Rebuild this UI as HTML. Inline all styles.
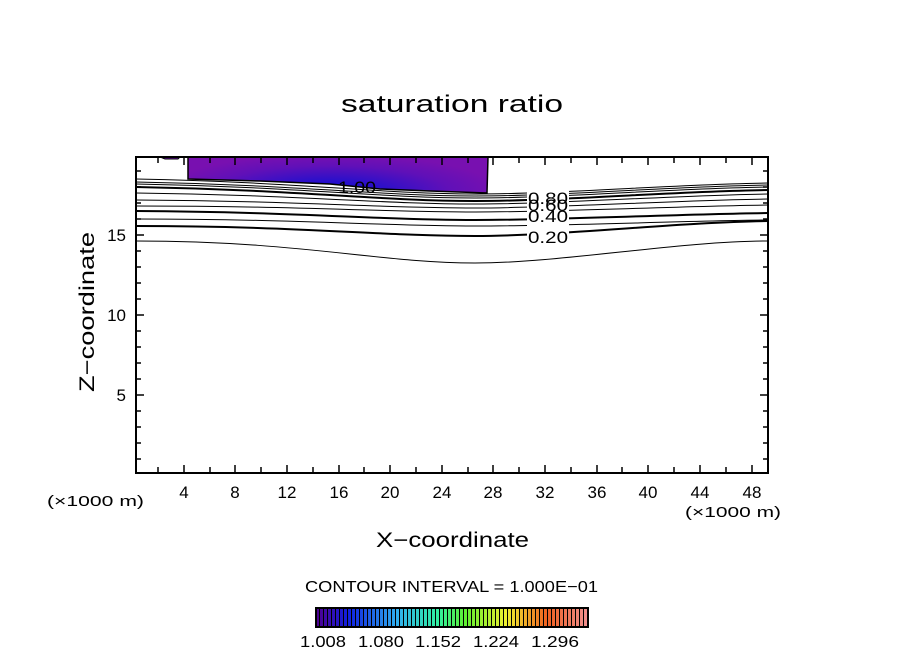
<!DOCTYPE html>
<html><head><style>
html,body{margin:0;padding:0;background:#fff;}
svg{display:block;font-family:"Liberation Sans",sans-serif;}
</style></head><body>
<svg width="904" height="654" viewBox="0 0 904 654" xmlns="http://www.w3.org/2000/svg">
<defs>
<radialGradient id="g" cx="330" cy="192" r="170" gradientUnits="userSpaceOnUse" gradientTransform="translate(330 192) scale(1 0.22) translate(-330 -192)">
<stop offset="0" stop-color="#0808d8"/>
<stop offset="0.35" stop-color="#3010c8"/>
<stop offset="0.7" stop-color="#6010b8"/>
<stop offset="1" stop-color="#7810b0"/>
</radialGradient>
<linearGradient id="cb" x1="0" x2="1">
<stop offset="0" stop-color="#500090"/>
<stop offset="0.12" stop-color="#1020e0"/>
<stop offset="0.3" stop-color="#30b0f0"/>
<stop offset="0.45" stop-color="#30f0a0"/>
<stop offset="0.55" stop-color="#60f030"/>
<stop offset="0.7" stop-color="#f0f030"/>
<stop offset="0.85" stop-color="#f06020"/>
<stop offset="1" stop-color="#f09090"/>
</linearGradient>
<pattern id="st" width="4" height="20" patternUnits="userSpaceOnUse" x="316">
<rect x="3" width="1" height="20" fill="#000"/>
</pattern>
</defs>
<text x="341" y="112" font-size="24" textLength="222" lengthAdjust="spacingAndGlyphs">saturation ratio</text>
<path d="M188,157 L488,157 L487,193 L430,191 L380,189 L330,184 L260,181 L188,179 Z" fill="url(#g)" stroke="#000" stroke-width="1.5"/>
<path d="M160,157 L180,157 L178,159 L165,159 Z" fill="#7010b0" stroke="#000"/>
<g fill="none" stroke="#000">
<path d="M136,179 C300,182 380,194 475,194 C560,194 680,184 768,183" stroke-width="1"/>
<path d="M136,182 C300,185 380,196 475,196 C560,196 680,186 768,185" stroke-width="1"/>
<path d="M136,184 C300,187 380,198 475,198 C560,198 680,188 768,187" stroke-width="1"/>
<path d="M136,187 C300,190 380,201 475,201 C560,201 680,191 768,190" stroke-width="2"/>
<path d="M136,193 C300,195 380,204 475,204 C560,204 680,195 768,194" stroke-width="1"/>
<path d="M136,200 C300,201 380,208 475,208 C560,208 680,200 768,199" stroke-width="1"/>
<path d="M136,206 C300,206 380,212 475,212 C560,212 680,206 768,205" stroke-width="1"/>
<path d="M136,211 C300,212 380,220 475,220 C560,220 680,214 768,213" stroke-width="2"/>
<path d="M136,219 C300,219 380,226 475,226 C560,226 680,221 768,220" stroke-width="1"/>
<path d="M136,226 C300,226 380,236 475,236 C560,236 680,222 768,221" stroke-width="2"/>
<path d="M136,241 C300,241 380,263 475,263 C560,263 680,241 768,241" stroke-width="1"/>
</g>
<g font-size="17">
<rect x="527" y="190" width="42" height="52" fill="#fff"/>
<text x="528" y="204" textLength="40" lengthAdjust="spacingAndGlyphs">0.80</text>
<text x="528" y="211" textLength="40" lengthAdjust="spacingAndGlyphs">0.60</text>
<text x="528" y="222" textLength="40" lengthAdjust="spacingAndGlyphs">0.40</text>
<text x="528" y="243" textLength="40" lengthAdjust="spacingAndGlyphs">0.20</text>
<text x="338" y="193" textLength="38" lengthAdjust="spacingAndGlyphs">1.00</text>
</g>
<rect x="136" y="157" width="632" height="316" fill="none" stroke="#000" stroke-width="2"/>
<g stroke="#000" stroke-width="1.5">
<path d="M158,157v6M184,157v8M210,157v6M235,157v8M261,157v6M287,157v8M313,157v6M339,157v8M364,157v6M390,157v8M416,157v6M442,157v8M468,157v6M493,157v8M519,157v6M545,157v8M571,157v6M597,157v8M622,157v6M648,157v8M674,157v6M700,157v8M726,157v6M752,157v8"/>
<path d="M158,473v-6M184,473v-8M210,473v-6M235,473v-8M261,473v-6M287,473v-8M313,473v-6M339,473v-8M364,473v-6M390,473v-8M416,473v-6M442,473v-8M468,473v-6M493,473v-8M519,473v-6M545,473v-8M571,473v-6M597,473v-8M622,473v-6M648,473v-8M674,473v-6M700,473v-8M726,473v-6M752,473v-8"/>
<path d="M136,459h5M136,443h5M136,427h5M136,411h5M136,395h8M136,379h5M136,363h5M136,347h5M136,331h5M136,315h8M136,299h5M136,283h5M136,267h5M136,251h5M136,235h8M136,219h5M136,203h5M136,187h5M136,171h5"/>
<path d="M768,459h-5M768,443h-5M768,427h-5M768,411h-5M768,395h-8M768,379h-5M768,363h-5M768,347h-5M768,331h-5M768,315h-8M768,299h-5M768,283h-5M768,267h-5M768,251h-5M768,235h-8M768,219h-5M768,203h-5M768,187h-5M768,171h-5"/>
</g>
<g font-size="17" text-anchor="middle">
<text x="184" y="498">4</text><text x="235" y="498">8</text><text x="287" y="498">12</text><text x="339" y="498">16</text><text x="390" y="498">20</text><text x="442" y="498">24</text><text x="493" y="498">28</text><text x="545" y="498">32</text><text x="597" y="498">36</text><text x="648" y="498">40</text><text x="700" y="498">44</text><text x="752" y="498">48</text>
</g>
<g font-size="17" text-anchor="end">
<text x="126" y="401">5</text><text x="126" y="321">10</text><text x="126" y="241">15</text>
</g>
<text x="47" y="506" font-size="15" textLength="97" lengthAdjust="spacingAndGlyphs">(×1000 m)</text>
<text x="685" y="517" font-size="15" textLength="96" lengthAdjust="spacingAndGlyphs">(×1000 m)</text>
<text x="376" y="547" font-size="21" textLength="153" lengthAdjust="spacingAndGlyphs">X−coordinate</text>
<text transform="translate(94 392) rotate(-90)" font-size="21" textLength="160" lengthAdjust="spacingAndGlyphs">Z−coordinate</text>
<text x="305" y="592" font-size="16" textLength="293" lengthAdjust="spacingAndGlyphs">CONTOUR INTERVAL = 1.000E−01</text>
<rect x="316" y="608" width="272" height="19" fill="url(#cb)"/>
<rect x="316" y="608" width="272" height="19" fill="url(#st)"/>
<rect x="316" y="608" width="272" height="19" fill="none" stroke="#000" stroke-width="2"/>
<g font-size="16">
<text x="300" y="647" textLength="46" lengthAdjust="spacingAndGlyphs">1.008</text><text x="358" y="647" textLength="46" lengthAdjust="spacingAndGlyphs">1.080</text><text x="415" y="647" textLength="46" lengthAdjust="spacingAndGlyphs">1.152</text><text x="473" y="647" textLength="46" lengthAdjust="spacingAndGlyphs">1.224</text><text x="531" y="647" textLength="48" lengthAdjust="spacingAndGlyphs">1.296</text>
</g>
</svg>
</body></html>
